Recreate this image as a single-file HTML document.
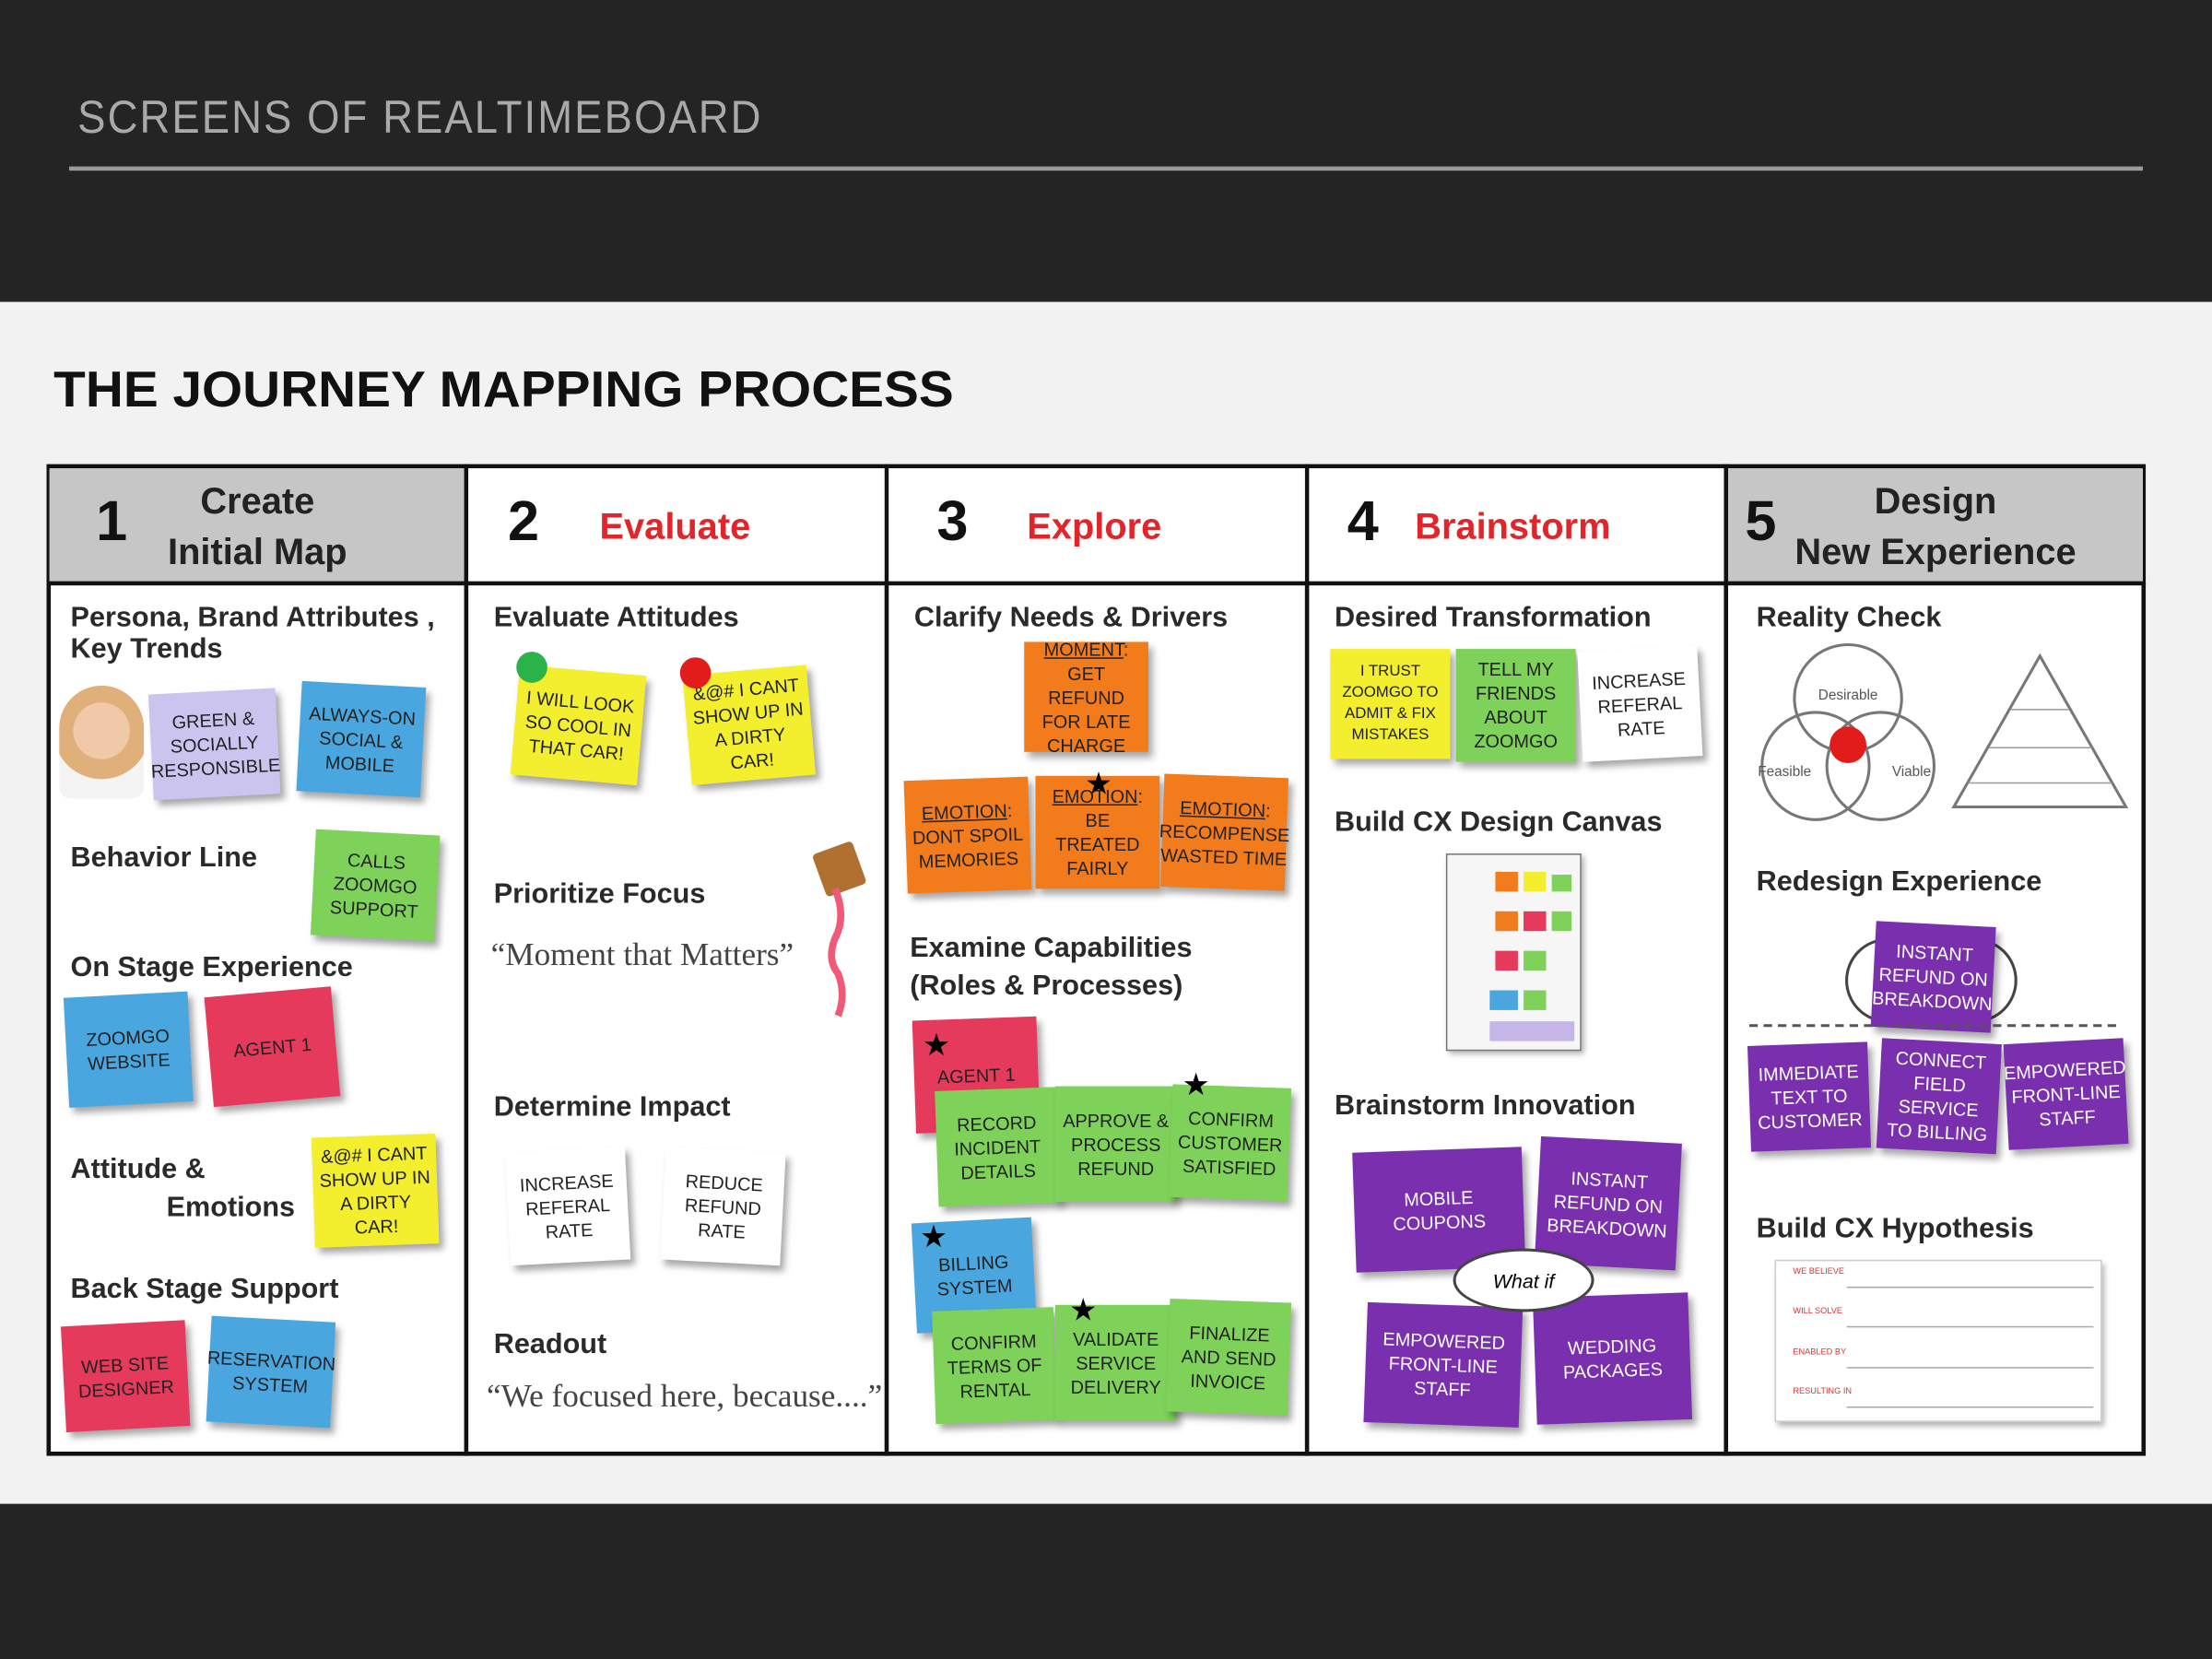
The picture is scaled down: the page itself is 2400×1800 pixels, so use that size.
<!DOCTYPE html>
<html><head><meta charset="utf-8"><style>
*{margin:0;padding:0;box-sizing:border-box}
body{width:2400px;height:1800px;overflow:hidden;background:#242424;font-family:"Liberation Sans",sans-serif}
#s{position:absolute;left:0;top:0;width:1568px;height:1176px;transform:scale(1.530612);transform-origin:0 0}
.a{position:absolute}
.lbl{position:absolute;font-size:20px;font-weight:bold;color:#2a2a2a;line-height:22px;white-space:nowrap}
.n{position:absolute;display:flex;align-items:center;justify-content:center;text-align:center;font-size:13px;line-height:17px;color:#222;text-transform:uppercase;box-shadow:3px 4px 5px rgba(0,0,0,.35);padding:4px;font-family:"Liberation Sans Narrow","Liberation Sans",sans-serif}
.y{background:#f3ef2e}.g{background:#7ed25a}.b{background:#4aa6df}.r{background:#e53a5c}.o{background:#f27c1c}.p{background:#7a2fae;color:#fff}.w{background:#fff}.l{background:#cbc4ef}
.hd{position:absolute;top:332px;height:82px;background:#c6c6c6}
.num{position:absolute;font-size:40px;color:#111}
.ht{position:absolute;font-size:26px;color:#222;text-align:center;line-height:36px;font-weight:bold}
.red{color:#e0262b}
.star{position:absolute;font-size:22px;color:#000;line-height:1}
.q{position:absolute;font-family:"Liberation Serif",serif;font-size:23px;color:#444;white-space:nowrap}
</style></head><body><div id="s">
<div class="a" style="left:55px;top:64px;font-size:33px;color:#a9a9a9;letter-spacing:1.5px;transform:scaleX(0.9);transform-origin:0 0">SCREENS OF REALTIMEBOARD</div>
<div class="a" style="left:49px;top:118px;width:1470px;height:3px;background:#9a9a9a"></div>
<div class="a" style="left:0;top:214px;width:1568px;height:852px;background:#f2f2f2"></div>
<div class="a" style="left:38px;top:255px;font-size:36px;font-weight:bold;color:#111;transform:scaleX(1.03);transform-origin:0 0">THE JOURNEY MAPPING PROCESS</div>
<div class="a" style="left:33px;top:329px;width:1488px;height:703px;background:#fff;border:3px solid #111"></div>
<div class="hd" style="left:35px;width:1484px"></div>
<div class="a" style="left:33px;top:412px;width:1488px;height:3px;background:#111"></div>
<div class="a" style="left:329px;top:329px;width:3px;height:703px;background:#111"></div>
<div class="a" style="left:627px;top:329px;width:3px;height:703px;background:#111"></div>
<div class="a" style="left:925px;top:329px;width:3px;height:703px;background:#111"></div>
<div class="a" style="left:1222px;top:329px;width:3px;height:703px;background:#111"></div>
<div class="a" style="left:332px;top:332px;width:295px;height:80px;background:#fff"></div>
<div class="a" style="left:630px;top:332px;width:295px;height:80px;background:#fff"></div>
<div class="a" style="left:928px;top:332px;width:294px;height:80px;background:#fff"></div>
<div class="num" style="left:68px;top:348px;font-weight:bold">1</div>
<div class="ht" style="left:100px;top:337px;width:165px">Create<br>Initial Map</div>
<div class="num" style="left:360px;top:348px;font-weight:bold">2</div>
<div class="ht red" style="left:425px;top:355px">Evaluate</div>
<div class="num" style="left:664px;top:348px;font-weight:bold">3</div>
<div class="ht red" style="left:728px;top:355px">Explore</div>
<div class="num" style="left:955px;top:348px;font-weight:bold">4</div>
<div class="ht red" style="left:1003px;top:355px">Brainstorm</div>
<div class="num" style="left:1237px;top:348px;font-weight:bold">5</div>
<div class="ht" style="left:1262px;top:337px;width:220px">Design<br>New Experience</div>

<!-- col1 -->
<div class="lbl" style="left:50px;top:427px">Persona, Brand Attributes ,<br>Key Trends</div>
<div class="a" style="left:42px;top:486px;width:60px;height:80px;border-radius:30px 30px 8px 8px;background:radial-gradient(circle at 50% 40%,#f0c9a8 0 35%,#e0b07a 36% 60%,#f4f4f4 61%)"></div>
<div class="n l" style="left:107px;top:490px;width:90px;height:75px;transform:rotate(-3deg)">Green &amp; socially responsible</div>
<div class="n b" style="left:212px;top:485px;width:88px;height:78px;transform:rotate(3deg)">Always-on social &amp; mobile</div>
<div class="lbl" style="left:50px;top:597px">Behavior Line</div>
<div class="n g" style="left:222px;top:590px;width:88px;height:75px;transform:rotate(3deg)">Calls Zoomgo support</div>
<div class="lbl" style="left:50px;top:675px">On Stage Experience</div>
<div class="n b" style="left:47px;top:705px;width:88px;height:78px;transform:rotate(-3deg)">Zoomgo website</div>
<div class="n r" style="left:148px;top:703px;width:90px;height:78px;transform:rotate(-5deg)">Agent 1</div>
<div class="lbl" style="left:50px;top:818px">Attitude &amp;</div>
<div class="lbl" style="left:118px;top:845px">Emotions</div>
<div class="n y" style="left:222px;top:805px;width:88px;height:78px;transform:rotate(-2deg)">&amp;@# I cant show up in a dirty car!</div>
<div class="lbl" style="left:50px;top:903px">Back Stage Support</div>
<div class="n r" style="left:45px;top:938px;width:88px;height:75px;transform:rotate(-3deg)">Web site designer</div>
<div class="n b" style="left:148px;top:935px;width:88px;height:75px;transform:rotate(3deg)">Reservation system</div>

<!-- col2 -->
<div class="lbl" style="left:350px;top:427px">Evaluate Attitudes</div>
<div class="n y" style="left:365px;top:475px;width:90px;height:78px;transform:rotate(5deg)">I will look so cool in that car!</div>
<div class="a" style="left:366px;top:462px;width:22px;height:22px;border-radius:50%;background:#2bb34a"></div>
<div class="n y" style="left:487px;top:475px;width:88px;height:78px;transform:rotate(-5deg)">&amp;@# I cant show up in a dirty car!</div>
<div class="a" style="left:482px;top:466px;width:22px;height:22px;border-radius:50%;background:#e21b1b"></div>
<div class="lbl" style="left:350px;top:623px">Prioritize Focus</div>
<div class="q" style="left:348px;top:664px">“Moment that Matters”</div>
<div class="a" style="left:580px;top:600px;width:30px;height:32px;background:#b07030;transform:rotate(-20deg);border-radius:3px"></div>
<svg class="a" style="left:580px;top:590px" width="40" height="140"><path d="M12 40 Q20 60 12 75 Q6 90 14 100 Q20 115 14 130" stroke="#f05a78" stroke-width="5" fill="none"/></svg>
<div class="lbl" style="left:350px;top:774px">Determine Impact</div>
<div class="n w" style="left:360px;top:815px;width:85px;height:80px;transform:rotate(-3deg)">Increase referal rate</div>
<div class="n w" style="left:470px;top:815px;width:85px;height:80px;transform:rotate(3deg)">Reduce refund rate</div>
<div class="lbl" style="left:350px;top:942px">Readout</div>
<div class="q" style="left:345px;top:977px">“We focused here, because....”</div>

<!-- col3 -->
<div class="lbl" style="left:648px;top:427px">Clarify Needs &amp; Drivers</div>
<div class="n o" style="left:726px;top:455px;width:88px;height:78px"><span><u>Moment</u>: get refund for late charge</span></div>
<div class="n o" style="left:642px;top:552px;width:88px;height:80px;transform:rotate(-2deg)"><span><u>Emotion</u>: dont spoil memories</span></div>
<div class="n o" style="left:734px;top:550px;width:88px;height:80px"><span><u>Emotion</u>: be treated fairly</span></div>
<div class="star" style="left:769px;top:545px">★</div>
<div class="n o" style="left:824px;top:550px;width:88px;height:80px;transform:rotate(2deg)"><span><u>Emotion</u>: recompense wasted time</span></div>
<div class="lbl" style="left:645px;top:659px;line-height:27px">Examine Capabilities<br>(Roles &amp; Processes)</div>
<div class="n r" style="left:648px;top:722px;width:88px;height:80px;transform:rotate(-2deg)">Agent 1</div>
<div class="star" style="left:654px;top:730px">★</div>
<div class="n g" style="left:664px;top:772px;width:86px;height:82px;transform:rotate(-2deg)">Record incident details</div>
<div class="n g" style="left:748px;top:770px;width:86px;height:82px">Approve &amp; process refund</div>
<div class="n g" style="left:830px;top:770px;width:84px;height:80px;transform:rotate(2deg)">Confirm customer satisfied</div>
<div class="star" style="left:838px;top:758px">★</div>
<div class="n b" style="left:648px;top:865px;width:85px;height:78px;transform:rotate(-3deg)">Billing system</div>
<div class="star" style="left:652px;top:866px">★</div>
<div class="n g" style="left:662px;top:928px;width:86px;height:80px;transform:rotate(-2deg)">Confirm terms of rental</div>
<div class="n g" style="left:748px;top:925px;width:86px;height:82px">Validate service delivery</div>
<div class="star" style="left:758px;top:918px">★</div>
<div class="n g" style="left:828px;top:922px;width:86px;height:80px;transform:rotate(2deg)">Finalize and send invoice</div>

<!-- col4 -->
<div class="lbl" style="left:946px;top:427px">Desired Transformation</div>
<div class="n y" style="left:943px;top:460px;width:85px;height:78px;font-size:11px;line-height:15px">I trust Zoomgo to admit &amp; fix mistakes</div>
<div class="n g" style="left:1032px;top:460px;width:85px;height:80px">Tell my friends about Zoomgo</div>
<div class="n w" style="left:1120px;top:460px;width:85px;height:78px;transform:rotate(-3deg)">Increase referal rate</div>
<div class="lbl" style="left:946px;top:572px">Build CX Design Canvas</div>
<div class="a" style="left:1025px;top:605px;width:96px;height:140px;border:1px solid #777;background:#f6f6f6;box-shadow:2px 2px 4px rgba(0,0,0,.3)">
<div class="a" style="left:34px;top:12px;width:16px;height:14px;background:#f27c1c"></div><div class="a" style="left:54px;top:12px;width:16px;height:14px;background:#f3ef2e"></div><div class="a" style="left:74px;top:14px;width:14px;height:12px;background:#7ed25a"></div>
<div class="a" style="left:34px;top:40px;width:16px;height:14px;background:#f27c1c"></div><div class="a" style="left:54px;top:40px;width:16px;height:14px;background:#e53a5c"></div><div class="a" style="left:74px;top:40px;width:14px;height:14px;background:#7ed25a"></div>
<div class="a" style="left:34px;top:68px;width:16px;height:14px;background:#e53a5c"></div><div class="a" style="left:54px;top:68px;width:16px;height:14px;background:#7ed25a"></div>
<div class="a" style="left:30px;top:96px;width:20px;height:14px;background:#4aa6df"></div><div class="a" style="left:54px;top:96px;width:16px;height:14px;background:#7ed25a"></div>
<div class="a" style="left:30px;top:118px;width:60px;height:14px;background:#c6b6e8"></div></div>
<div class="lbl" style="left:946px;top:773px">Brainstorm Innovation</div>
<div class="n p" style="left:960px;top:815px;width:120px;height:85px;transform:rotate(-2deg)">Mobile coupons</div>
<div class="n p" style="left:1090px;top:808px;width:100px;height:90px;transform:rotate(3deg)">Instant refund on breakdown</div>
<div class="n p" style="left:968px;top:925px;width:110px;height:85px;transform:rotate(2deg)">Empowered front-line staff</div>
<div class="n p" style="left:1088px;top:918px;width:110px;height:90px;transform:rotate(-2deg)">Wedding packages</div>
<div class="a" style="left:1030px;top:885px;width:100px;height:45px;border-radius:50%;background:#fff;border:2px solid #444;display:flex;align-items:center;justify-content:center;font-size:14px;font-style:italic">What if</div>

<!-- col5 -->
<div class="lbl" style="left:1245px;top:427px">Reality Check</div>
<svg class="a" style="left:1245px;top:455px" width="270" height="130">
<circle cx="65" cy="40" r="38" fill="#fff" stroke="#777" stroke-width="2"/>
<circle cx="42" cy="88" r="38" fill="none" stroke="#777" stroke-width="2"/>
<circle cx="88" cy="88" r="38" fill="none" stroke="#777" stroke-width="2"/>
<circle cx="65" cy="73" r="13" fill="#e21b1b"/>
<text x="65" y="41" font-size="10" text-anchor="middle" fill="#555" font-family="Liberation Sans">Desirable</text>
<text x="20" y="95" font-size="10" text-anchor="middle" fill="#555" font-family="Liberation Sans">Feasible</text>
<text x="110" y="95" font-size="10" text-anchor="middle" fill="#555" font-family="Liberation Sans">Viable</text>
<polygon points="201,10 140,117 262,117" fill="#fff" stroke="#777" stroke-width="2"/>
<line x1="180" y1="48" x2="222" y2="48" stroke="#999"/><line x1="165" y1="75" x2="238" y2="75" stroke="#999"/><line x1="150" y1="100" x2="252" y2="100" stroke="#999"/>
</svg>
<div class="lbl" style="left:1245px;top:614px">Redesign Experience</div>
<div class="a" style="left:1308px;top:665px;width:122px;height:60px;border:2px solid #444;border-radius:30px"></div>
<div class="n p" style="left:1328px;top:655px;width:85px;height:75px;transform:rotate(3deg)">Instant refund on breakdown</div>
<div class="a" style="left:1240px;top:726px;width:260px;border-top:2px dashed #555"></div>
<div class="n p" style="left:1240px;top:740px;width:85px;height:75px;transform:rotate(-2deg)">Immediate text to customer</div>
<div class="n p" style="left:1332px;top:738px;width:85px;height:78px;transform:rotate(3deg)">Connect field service to billing</div>
<div class="n p" style="left:1422px;top:738px;width:85px;height:75px;transform:rotate(-3deg)">Empowered front-line staff</div>
<div class="lbl" style="left:1245px;top:860px">Build CX Hypothesis</div>
<div class="a" style="left:1258px;top:893px;width:232px;height:115px;background:#fff;border:1px solid #ccc;box-shadow:2px 3px 4px rgba(0,0,0,.3);font-size:6px;color:#d33">
<div class="a" style="left:12px;top:5px">WE BELIEVE</div><div class="a" style="left:12px;top:33px">WILL SOLVE</div><div class="a" style="left:12px;top:62px">ENABLED BY</div><div class="a" style="left:12px;top:90px">RESULTING IN</div>
<div class="a" style="left:50px;top:18px;width:175px;border-top:1px solid #aaa"></div><div class="a" style="left:50px;top:46px;width:175px;border-top:1px solid #aaa"></div><div class="a" style="left:50px;top:75px;width:175px;border-top:1px solid #aaa"></div><div class="a" style="left:50px;top:103px;width:175px;border-top:1px solid #aaa"></div>
</div>
</div></body></html>
